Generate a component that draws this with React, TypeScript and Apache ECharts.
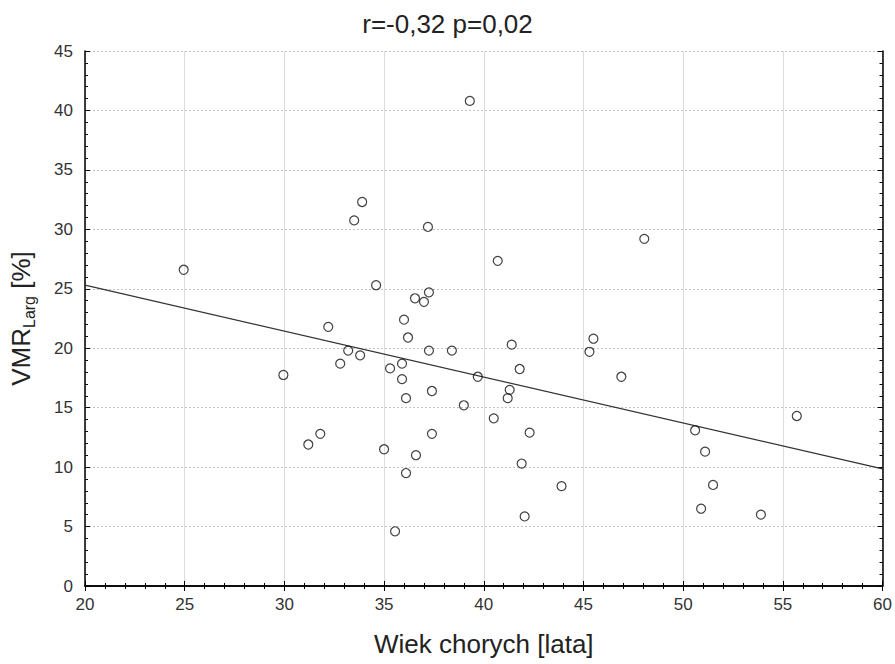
import React, { useEffect, useRef } from "react";
import * as echarts from "echarts";

const titleText = "r=-0,32 p=0,02";
const xAxisTitle = "Wiek chorych [lata]";

const ageValues = [
  24.95, 29.95, 31.2, 31.8, 32.2, 32.8, 33.2, 33.5, 33.9, 33.8,
  34.6, 35.0, 35.3, 35.55, 35.9, 35.9, 36.0, 36.1, 36.2, 36.1,
  36.55, 36.6, 37.0, 37.25, 37.2, 37.25, 37.4, 37.4, 38.4, 39.0,
  39.3, 39.7, 40.5, 40.7, 41.3, 41.2, 41.4, 41.8, 41.9, 42.05,
  42.3, 43.9, 45.3, 45.5, 46.9, 48.05, 50.6, 50.9, 51.1, 51.5,
  53.9, 55.7,
];
const vmrValues = [
  26.6, 17.75, 11.9, 12.8, 21.8, 18.7, 19.8, 30.75, 32.3, 19.4,
  25.3, 11.5, 18.3, 4.6, 18.7, 17.4, 22.4, 15.8, 20.9, 9.5,
  24.2, 11.0, 23.9, 24.7, 30.2, 19.8, 16.4, 12.8, 19.8, 15.2,
  40.8, 17.6, 14.1, 27.35, 16.5, 15.8, 20.3, 18.25, 10.3, 5.85,
  12.9, 8.4, 19.7, 20.8, 17.6, 29.2, 13.1, 6.5, 11.3, 8.5,
  6.0, 14.3,
];
const trendX = [20, 60];
const trendY = [25.3, 9.85];

const FONT = "'Liberation Sans', Arial, sans-serif";

export default function App() {
  const ref = useRef<HTMLDivElement>(null);
  useEffect(() => {
    if (!ref.current) return;
    const chart = echarts.init(ref.current, null, { renderer: "svg" });
    const scatterData = ageValues.map((x, i) => [x, vmrValues[i]]);
    const trendData = trendX.map((x, i) => [x, trendY[i]]);
    const hiddenAxisCommon = {
      axisLabel: { show: false },
      splitLine: { show: false },
      axisLine: { show: true, lineStyle: { color: "#000", width: 1.5 } },
      axisTick: { show: true, inside: true, length: 5, lineStyle: { color: "#000" } },
      minorTick: { show: true, splitNumber: 5, length: 3, lineStyle: { color: "#000" } },
    };
    chart.setOption({
      animation: false,
      backgroundColor: "#fff",
      title: {
        text: titleText,
        left: "center",
        top: 6,
        textStyle: { fontFamily: FONT, fontSize: 26, fontWeight: "normal", color: "#222" },
      },
      grid: { left: 85, right: 12, top: 51, bottom: 78 },
      xAxis: [
        {
          type: "value",
          min: 20,
          max: 60,
          interval: 5,
          name: xAxisTitle,
          nameLocation: "middle",
          nameGap: 45,
          nameTextStyle: { fontFamily: FONT, fontSize: 26, color: "#222" },
          axisLine: { show: true, onZero: false, lineStyle: { color: "#000", width: 1.5 } },
          axisTick: { show: true, inside: true, length: 5, lineStyle: { color: "#000" } },
          minorTick: { show: true, splitNumber: 5, length: 3, lineStyle: { color: "#000" } },
          axisLabel: { fontFamily: FONT, fontSize: 17, color: "#333", margin: 10 },
          splitLine: { show: true, lineStyle: { color: "#dcdcdc", width: 1, type: "solid" } },
        },
        { type: "value", position: "top", min: 20, max: 60, interval: 5, ...hiddenAxisCommon },
      ],
      yAxis: [
        {
          type: "value",
          min: 0,
          max: 45,
          interval: 5,
          name: "{a|VMR}{b|Larg}{a| [%]}",
          nameLocation: "middle",
          nameGap: 48,
          nameTextStyle: {
            fontFamily: FONT,
            fontSize: 26,
            color: "#222",
            rich: {
              a: { fontFamily: FONT, fontSize: 26, color: "#222", lineHeight: 32, verticalAlign: "middle" },
              b: { fontFamily: FONT, fontSize: 16, color: "#222", lineHeight: 17, verticalAlign: "bottom" },
            },
          },
          axisLine: { show: true, onZero: false, lineStyle: { color: "#000", width: 1.5 } },
          axisTick: { show: true, inside: true, length: 5, lineStyle: { color: "#000" } },
          minorTick: { show: true, splitNumber: 5, length: 3, lineStyle: { color: "#000" } },
          axisLabel: { fontFamily: FONT, fontSize: 17, color: "#333", margin: 12 },
          splitLine: { show: true, lineStyle: { color: "#c4c4c4", width: 1, type: [2, 2] } },
        },
        { type: "value", position: "right", min: 0, max: 45, interval: 5, ...hiddenAxisCommon },
      ],
      series: [
        {
          type: "line",
          data: trendData,
          symbol: "none",
          lineStyle: { color: "#333", width: 1.3 },
          silent: true,
          z: 3,
        },
        {
          type: "scatter",
          data: scatterData,
          symbol: "circle",
          symbolSize: 9,
          itemStyle: { color: "rgba(255,255,255,0)", borderColor: "#111", borderWidth: 1.2 },
          z: 4,
        },
      ],
    });
    return () => chart.dispose();
  }, []);
  return (
    <div
      ref={ref}
      style={{ position: "fixed", left: 0, top: 0, width: 895, height: 664 }}
    />
  );
}
